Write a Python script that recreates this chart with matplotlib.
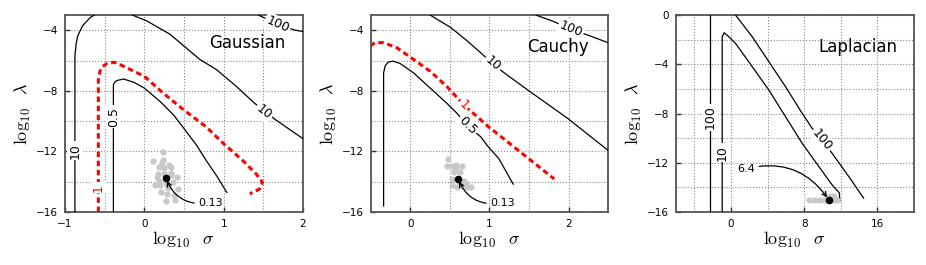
import matplotlib.pyplot as plt
from matplotlib.ticker import MultipleLocator

plt.rcParams["mathtext.fontset"] = "cm"
plt.rcParams["font.family"] = ["DejaVu Sans"]

# contour lines: (log10 sigma, log10 lambda)
gauss_10_left = [(-0.875, -16), (-0.875, -5.7), (-0.86, -4.9), (-0.84, -4.38),
                 (-0.78, -3.71), (-0.68, -3.15), (-0.63, -3.0)]
gauss_10_right = [(-0.15, -3.0), (0.03, -3.38), (0.325, -4.27), (0.7, -5.93),
                  (0.91, -6.6), (1.16, -7.71), (1.39, -8.82), (1.66, -9.93), (2.0, -11.16)]
gauss_100 = [(1.44, -3.0), (1.68, -3.6), (1.89, -3.98), (2.0, -4.09)]
gauss_05 = [(-0.39, -16), (-0.39, -7.6), (-0.37, -7.4), (-0.34, -7.31), (-0.26, -7.22),
            (-0.13, -7.44), (0.0, -7.82), (0.2, -8.71), (0.37, -9.6), (0.5, -10.49),
            (0.66, -11.6), (0.78, -12.6), (0.91, -13.6), (1.04, -14.71)]
gauss_1 = [(-0.58, -16), (-0.58, -7.27), (-0.56, -6.71), (-0.53, -6.4), (-0.47, -6.2),
           (-0.38, -6.11), (-0.26, -6.38), (0.0, -7.04), (0.24, -8.16), (0.5, -9.27),
           (0.78, -10.38), (1.0, -11.49), (1.24, -12.6), (1.41, -13.49), (1.49, -14.04),
           (1.45, -14.49), (1.33, -14.8)]

cauchy_05 = [(-0.34, -15.6), (-0.34, -6.82), (-0.32, -6.35), (-0.28, -6.1), (-0.22, -6.04),
             (-0.13, -6.2), (0.04, -6.82), (0.25, -7.82), (0.46, -8.82), (0.59, -9.49),
             (0.72, -10.3), (0.89, -11.04), (0.97, -11.6), (1.12, -12.49), (1.3, -14.16)]
cauchy_1 = [(-0.51, -5.04), (-0.45, -4.82), (-0.34, -4.82), (-0.17, -5.16), (0.04, -5.93),
            (0.25, -6.71), (0.46, -7.71), (0.675, -8.93), (0.99, -10.38), (1.42, -12.16),
            (1.82, -13.82)]
cauchy_10 = [(0.25, -3.0), (0.51, -3.82), (0.72, -4.71), (0.89, -5.49), (1.04, -6.22),
             (1.16, -6.71), (1.48, -7.93), (1.99, -9.82), (2.5, -11.93)]
cauchy_100 = [(1.59, -3.0), (1.82, -3.44), (2.03, -3.93), (2.25, -4.33), (2.5, -4.82)]

lap_100_left = [(-2.3, -16), (-2.3, 0)]
lap_10 = [(-0.95, -16), (-0.95, -1.76), (-0.73, -1.43), (-0.22, -1.76), (0.51, -2.3),
          (2.33, -4.19), (4.14, -6.08), (5.96, -8.25), (7.78, -10.41), (9.6, -12.3),
          (11.05, -13.79), (11.85, -14.45), (11.9, -15.14)]
lap_100_right = [(0.51, 0), (2.33, -1.76), (4.14, -3.78), (5.96, -5.81), (7.78, -7.97),
                 (8.87, -9.19), (9.96, -10.14), (11.05, -11.22), (12.87, -13.11), (14.5, -14.87)]

# inline contour labels: (x, y, text, rotation)
gauss_labels = [(-0.875, -11.95, "10", 90), (1.51, -9.38, "10", -38),
                (1.68, -3.6, "100", -24), (-0.39, -9.7, "0.5", 90)]
gauss_red_labels = [(-0.58, -14.4, "1", 90)]
cauchy_labels = [(1.04, -6.22, "10", -41), (2.03, -3.93, "100", -22),
                 (0.72, -10.3, "0.5", -45)]
cauchy_red_labels = [(0.675, -8.93, "1", -43)]
lap_labels = [(-2.3, -8.3, "100", 90), (-0.95, -11.2, "10", 90), (9.96, -10.14, "100", -51)]

# random restarts (gray) and best point (black)
gauss_pts_x = [0.24, 0.11, 0.23, 0.33, 0.18, 0.25, 0.33, 0.17, 0.25, 0.33, 0.41, 0.18, 0.27,
               0.36, 0.20, 0.30, 0.43, 0.21, 0.28, 0.39, 0.27, 0.14, 0.31, 0.22, 0.29, 0.37, 0.16]
gauss_pts_y = [-12.05, -12.6, -12.55, -13.0, -13.05, -13.1, -13.45, -13.5, -13.5, -13.55, -13.7,
               -13.95, -14.0, -14.05, -14.25, -14.4, -14.5, -14.7, -14.8, -15.2, -15.3, -14.2,
               -12.9, -12.75, -14.25, -14.9, -13.7]
cauchy_pts_x = [0.47, 0.46, 0.52, 0.57, 0.65, 0.55, 0.63, 0.53, 0.675, 0.53, 0.65, 0.72, 0.77,
                0.59, 0.58, 0.62, 0.70]
cauchy_pts_y = [-12.49, -12.93, -12.93, -12.89, -12.93, -13.38, -13.38, -13.82, -13.93, -14.2,
                -14.27, -14.38, -14.38, -14.38, -13.1, -14.0, -14.1]
lap_pts_x = [8.5, 9.05, 9.6, 10.14, 10.69, 11.23, 11.6, 10.5, 10.9, 11.3]
lap_pts_y = [-15, -15, -15, -15, -15, -15, -15, -14.75, -14.7, -14.7]

best = {"Gaussian": (0.27, -13.78), "Cauchy": (0.60, -13.82), "Laplacian": (10.69, -15.0)}
best_text = {"Gaussian": ("0.13", 0.68, -15.38), "Cauchy": ("0.13", 1.01, -15.38),
             "Laplacian": ("6.4", 0.69, -12.5)}

fig = plt.figure(figsize=(9.26, 2.65), dpi=100)
ax1 = fig.add_axes([0.0702, 0.2, 0.257, 0.743])
ax2 = fig.add_axes([0.4006, 0.2, 0.256, 0.743])
ax3 = fig.add_axes([0.730, 0.2, 0.257, 0.743])


def line(ax, pts, **kw):
    ax.plot([p[0] for p in pts], [p[1] for p in pts], **kw)


def clabels(ax, labels, color="k"):
    for x, y, s, rot in labels:
        ax.text(x, y, s, rotation=rot, ha="center", va="center", fontsize=9, color=color,
                bbox=dict(boxstyle="square,pad=0.12", fc="white", ec="none"), zorder=5)


blk = dict(color="k", lw=0.9, zorder=3)
red = dict(color="red", lw=2.2, ls=(0, (1.8, 1.2)), zorder=3)

line(ax1, gauss_10_left, **blk)
line(ax1, gauss_10_right, **blk)
line(ax1, gauss_100, **blk)
line(ax1, gauss_05, **blk)
line(ax1, gauss_1, **red)
clabels(ax1, gauss_labels)
clabels(ax1, gauss_red_labels, "red")

line(ax2, cauchy_05, **blk)
line(ax2, cauchy_10, **blk)
line(ax2, cauchy_100, **blk)
line(ax2, cauchy_1, **red)
clabels(ax2, cauchy_labels)
clabels(ax2, cauchy_red_labels, "red")

line(ax3, lap_100_left, **blk)
line(ax3, lap_10, **blk)
line(ax3, lap_100_right, **blk)
clabels(ax3, lap_labels)

ax1.scatter(gauss_pts_x, gauss_pts_y, s=20, color="#c8c8c8", lw=0, zorder=4)
ax2.scatter(cauchy_pts_x, cauchy_pts_y, s=20, color="#c8c8c8", lw=0, zorder=4)
ax3.scatter(lap_pts_x, lap_pts_y, s=20, color="#c8c8c8", lw=0, zorder=4)

for ax, name, rad in [(ax1, "Gaussian", -0.4), (ax2, "Cauchy", -0.4), (ax3, "Laplacian", -0.35)]:
    bx, by = best[name]
    ax.scatter([bx], [by], s=20, color="k", zorder=6)
    s, tx, ty = best_text[name]
    ax.annotate(s, xy=(bx, by), xytext=(tx, ty), fontsize=8, ha="left", va="center",
                arrowprops=dict(arrowstyle="->", color="k", lw=0.9,
                                connectionstyle="arc3,rad=%s" % rad, shrinkA=1, shrinkB=2),
                zorder=6)

ax1.text(0.765, 0.858, "Gaussian", transform=ax1.transAxes, fontsize=12, ha="center", va="center")
ax2.text(0.789, 0.839, "Cauchy", transform=ax2.transAxes, fontsize=12, ha="center", va="center")
ax3.text(0.765, 0.839, "Laplacian", transform=ax3.transAxes, fontsize=12, ha="center", va="center")

ax1.set_xlim(-1, 2)
ax1.set_ylim(-16, -3)
ax2.set_xlim(-0.5, 2.5)
ax2.set_ylim(-16, -3)
ax3.set_xlim(-6, 20)
ax3.set_ylim(-16, 0)

for ax in (ax1, ax2):
    ax.xaxis.set_major_locator(MultipleLocator(1))
    ax.xaxis.set_minor_locator(MultipleLocator(0.5))
ax3.xaxis.set_major_locator(MultipleLocator(8))
ax3.xaxis.set_minor_locator(MultipleLocator(4))

for ax in (ax1, ax2, ax3):
    ax.yaxis.set_major_locator(MultipleLocator(4))
    ax.yaxis.set_minor_locator(MultipleLocator(2))
    ax.grid(True, which="both", ls=":", color="#888888", lw=0.8, zorder=0)
    ax.set_axisbelow(True)
    ax.tick_params(which="major", direction="in", length=3.5, width=1, color="#333333",
                   labelsize=7.5, pad=5)
    ax.tick_params(which="minor", length=0)
    for sp in ax.spines.values():
        sp.set_color("#555555")
        sp.set_linewidth(1.3)
    ax.set_xlabel(r"$\log_{10}\ \ \sigma$", fontsize=13, labelpad=1)
    ax.set_ylabel(r"$\log_{10}\ \ \lambda$", fontsize=13, labelpad=2)

fig.savefig("out.png", dpi=100)
